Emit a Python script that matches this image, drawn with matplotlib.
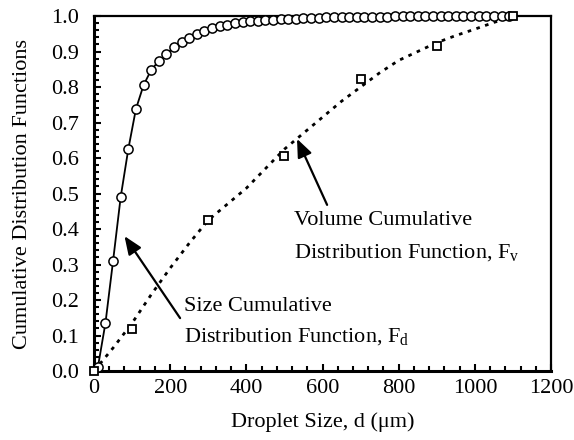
import matplotlib
matplotlib.use("Agg")
import matplotlib.pyplot as plt
from matplotlib.ticker import MultipleLocator

plt.rcParams['font.family'] = ['Liberation Serif', 'DejaVu Serif']
plt.rcParams['mathtext.fontset'] = 'custom'
plt.rcParams['mathtext.rm'] = 'Liberation Serif'
plt.rcParams['mathtext.it'] = 'Liberation Serif:italic'

# Size cumulative distribution (bin midpoints)
size_d = [10, 30, 50, 70, 90, 110, 130, 150, 170, 190, 210, 230, 250, 270, 290,
          310, 330, 350, 370, 390, 410, 430, 450, 470, 490, 510, 530, 550, 570, 590,
          610, 630, 650, 670, 690, 710, 730, 750, 770, 790, 810, 830, 850, 870, 890,
          910, 930, 950, 970, 990, 1010, 1030, 1050, 1070, 1090]
size_F = [0.01, 0.135, 0.31, 0.49, 0.625, 0.738, 0.805, 0.848, 0.873, 0.893, 0.912,
          0.927, 0.938, 0.948, 0.957, 0.965, 0.971, 0.976, 0.980, 0.983, 0.985, 0.987,
          0.989, 0.990, 0.991, 0.992, 0.993, 0.994, 0.995, 0.995, 0.996, 0.996, 0.997,
          0.997, 0.997, 0.998, 0.998, 0.998, 0.998, 0.999, 0.999, 0.999, 0.999, 0.999,
          0.999, 0.999, 1.0, 1.0, 1.0, 1.0, 1.0, 1.0, 1.0, 1.0, 1.0]

# Volume cumulative distribution: measured points
vol_d = [0, 100, 300, 500, 700, 900, 1100]
vol_F = [0.0, 0.118, 0.425, 0.606, 0.822, 0.916, 1.0]

# Volume fitted curve
fit_d = [0, 50, 100, 150, 200, 250, 300, 350, 400, 450, 500, 550, 600, 650, 700,
         750, 800, 850, 900, 950, 1000, 1050, 1090]
fit_F = [0.0, 0.065, 0.135, 0.215, 0.29, 0.36, 0.425, 0.47, 0.515, 0.57, 0.625,
         0.67, 0.715, 0.76, 0.80, 0.84, 0.875, 0.90, 0.925, 0.945, 0.963, 0.982, 0.995]

FS = 16

fig = plt.figure(figsize=(5.74, 4.40), dpi=100)
ax = fig.add_axes([0.1638, 0.1568, 0.7962, 0.8068])

ax.plot(fit_d, fit_F, color='black', lw=2.0, linestyle=(0, (1.3, 2.0)))
ax.plot(size_d, size_F, color='black', lw=1.3, marker='o', markersize=6.6,
        markerfacecolor='white', markeredgecolor='black', markeredgewidth=1.1,
        clip_on=False, zorder=3)
ax.plot(vol_d, vol_F, linestyle='none', marker='s', markersize=6.3,
        markerfacecolor='white', markeredgecolor='black', markeredgewidth=1.3,
        clip_on=False, zorder=4)

ax.set_xlim(0, 1200)
ax.set_ylim(0, 1.0)
ax.xaxis.set_major_locator(MultipleLocator(200))
ax.xaxis.set_minor_locator(MultipleLocator(40))
ax.yaxis.set_major_locator(MultipleLocator(0.1))
ax.yaxis.set_minor_locator(MultipleLocator(0.02))
ax.yaxis.set_major_formatter(matplotlib.ticker.FormatStrFormatter('%.1f'))

ax.tick_params(which='both', direction='in', top=False, right=False, labelsize=FS)
ax.tick_params(axis='x', which='major', length=5, width=1.5, pad=6)
ax.tick_params(axis='x', which='minor', length=3.5, width=1.5)
ax.tick_params(axis='y', which='major', length=5, width=1.5, pad=11)
ax.tick_params(axis='y', which='minor', length=3.5, width=1.5)

for side in ['left', 'bottom']:
    ax.spines[side].set_linewidth(2.2)
for side in ['top', 'right']:
    ax.spines[side].set_linewidth(1.6)

ax.set_xlabel('Droplet Size, d (μm)', fontsize=FS, labelpad=10)
ax.set_ylabel('Cumulative Distribution Functions', fontsize=FS)
ax.yaxis.set_label_coords(-0.136, 0.5)

ax.text(525, 0.423, 'Volume Cumulative', fontsize=FS, va='center', ha='left')
ax.text(525, 0.335, r'Distribution Function, F$_\mathrm{v}$', fontsize=FS, va='center', ha='left')
ax.text(236, 0.182, 'Size Cumulative', fontsize=FS, va='center', ha='left')
ax.text(236, 0.096, r'Distribution Function, F$_\mathrm{d}$', fontsize=FS, va='center', ha='left')

arrowprops = dict(arrowstyle='-|>,head_length=1.1,head_width=0.45', color='black', lw=1.6,
                  shrinkA=0, shrinkB=0)
ax.annotate('', xy=(533, 0.654), xytext=(612, 0.468), arrowprops=arrowprops)
ax.annotate('', xy=(80, 0.380), xytext=(226, 0.149), arrowprops=arrowprops)

fig.savefig('out.png', dpi=100)
